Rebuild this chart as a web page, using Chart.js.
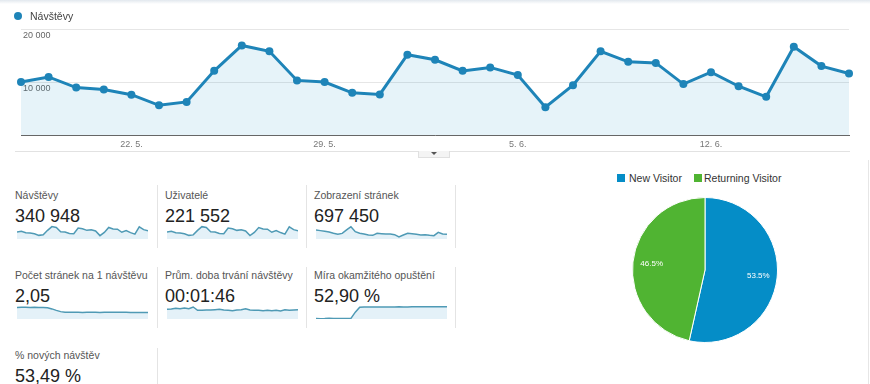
<!DOCTYPE html>
<html lang="cs">
<head>
<meta charset="utf-8">
<title>Návštěvy</title>
<script src="https://cdn.jsdelivr.net/npm/chart.js@4.4.1/dist/chart.umd.min.js"></script>
<style>
  body { margin:0; width:870px; height:384px; position:relative; overflow:hidden; background:#fff; font-family:"Liberation Sans", Arial, sans-serif; }
  .abs { position:absolute; }
  #topbar { left:0; top:0; width:870px; height:4px; background:linear-gradient(#e2e8ee,#fff); }
  #legenda { left:14px; top:11px; font-size:10.5px; line-height:1; color:#444; white-space:nowrap; }
  #legenda i { display:inline-block; width:8px; height:8px; border-radius:50%; background:#1e84b8; margin-right:8px; vertical-align:0; }
  #hlavni { left:0; top:0; }
  #spodni { left:15px; top:151px; width:835px; height:1px; background:#e2e2e2; }
  #zalozka { left:418px; top:151px; width:30px; height:6px; background:#f4f4f4; border:1px solid #e0e0e0; border-top:none; }
  #zalozka:after { content:''; position:absolute; left:12px; top:1px; border-left:3px solid transparent; border-right:3px solid transparent; border-top:3px solid #555; }
  .metrika { position:absolute; width:140px; height:60px; }
  .metrika .lbl { position:absolute; left:0; top:0; font-size:10.5px; line-height:1; color:#555; white-space:nowrap; }
  .metrika .val { position:absolute; left:0; top:16.5px; font-size:18px; line-height:1; color:#222; white-space:nowrap; }
  .metrika canvas { position:absolute; left:2px; top:34px; }
  .sep { position:absolute; width:1px; background:#e4e4e4; }
  #pieLeg { left:617px; top:173px; font-size:10.5px; line-height:1; color:#333; white-space:nowrap; }
  #pieLeg span { position:absolute; top:0; }
  #pieLeg b { position:absolute; top:1px; width:8px; height:8px; }
  #kolac { left:632px; top:197px; }
  #prava { left:868px; top:160px; width:1px; height:224px; background:#e6e6e6; }
</style>
</head>
<body>
<div id="topbar" class="abs"></div>
<canvas id="hlavni" class="abs" width="870" height="150"></canvas>
<div id="legenda" class="abs"><i></i>Návštěvy</div>
<div id="spodni" class="abs"></div>
<div id="zalozka" class="abs"></div>

<div class="metrika" style="left:15px;top:190px"><div class="lbl">Návštěvy</div><div class="val">340 948</div><canvas id="s1" width="131" height="15"></canvas></div>
<div class="metrika" style="left:165px;top:190px"><div class="lbl">Uživatelé</div><div class="val">221 552</div><canvas id="s2" width="131" height="15"></canvas></div>
<div class="metrika" style="left:314px;top:190px"><div class="lbl">Zobrazení stránek</div><div class="val">697 450</div><canvas id="s3" width="131" height="15"></canvas></div>
<div class="metrika" style="left:15px;top:270px"><div class="lbl">Počet stránek na 1 návštěvu</div><div class="val">2,05</div><canvas id="s4" width="131" height="15"></canvas></div>
<div class="metrika" style="left:165px;top:270px"><div class="lbl">Prům. doba trvání návštěvy</div><div class="val">00:01:46</div><canvas id="s5" width="131" height="15"></canvas></div>
<div class="metrika" style="left:314px;top:270px"><div class="lbl">Míra okamžitého opuštění</div><div class="val">52,90 %</div><canvas id="s6" width="131" height="15"></canvas></div>
<div class="metrika" style="left:15px;top:350px"><div class="lbl">% nových návštěv</div><div class="val">53,49 %</div></div>

<div class="sep" style="left:157px;top:185px;height:63px"></div>
<div class="sep" style="left:306px;top:185px;height:63px"></div>
<div class="sep" style="left:455px;top:185px;height:63px"></div>
<div class="sep" style="left:157px;top:267px;height:61px"></div>
<div class="sep" style="left:306px;top:267px;height:61px"></div>
<div class="sep" style="left:455px;top:267px;height:61px"></div>
<div class="sep" style="left:157px;top:348px;height:40px"></div>

<div id="pieLeg" class="abs">
  <b style="left:0;background:#058dc7"></b><span style="left:12px">New Visitor</span>
  <b style="left:77px;background:#50b432"></b><span style="left:87px">Returning Visitor</span>
</div>
<canvas id="kolac" class="abs" width="146" height="146"></canvas>
<div id="prava" class="abs"></div>

<script>
// dny v obdobi
const dny = ['18. 5.','19. 5.','20. 5.','21. 5.','22. 5.','23. 5.','24. 5.','25. 5.','26. 5.','27. 5.','28. 5.','29. 5.','30. 5.','31. 5.',
             '1. 6.','2. 6.','3. 6.','4. 6.','5. 6.','6. 6.','7. 6.','8. 6.','9. 6.','10. 6.','11. 6.','12. 6.','13. 6.','14. 6.','15. 6.','16. 6.','17. 6.'];
const popiskyOsy = ['22. 5.','29. 5.','5. 6.','12. 6.']; // popisky na ose x

const navstevy   = [10000,10950,8950,8600,7600,5600,6250,12100,16900,15800,10300,10000,7950,7650,15150,14200,12100,12750,11300,5250,9400,15800,13800,13600,9600,11850,9200,7200,16650,13000,11600];
const uzivatele  = [6500,7100,5850,5600,4950,3650,4050,7850,10950,10250,6700,6500,5200,4950,9850,9200,7850,8300,7350,3450,6100,10250,8950,8850,6250,7700,6000,4700,10800,8450,7550];
const zobrazeni  = [30600,29100,27400,25700,22600,20200,22500,30700,38600,26600,22700,21000,18600,17800,22600,21800,21000,20900,19400,13800,18600,22700,21800,20200,18600,19400,17800,17000,25000,21000,20200];
const stranekNa  = [2.44,2.45,2.46,2.44,2.45,2.43,2.44,2.40,2.28,2.12,1.98,1.92,1.91,1.90,1.90,1.89,1.91,1.90,1.90,1.89,1.90,1.91,1.91,1.90,1.91,1.90,1.89,1.89,1.89,1.88,1.89];
const dobaSek    = [108,110,114,112,116,112,122,102,102,104,104,106,108,104,102,100,104,106,112,104,102,102,100,102,100,102,98,106,102,104,106];
const opusteni   = [31.2,30.8,31.0,31.5,30.9,31.3,31.1,31.0,31.5,46.0,57.5,57.8,58.0,57.9,58.1,58.0,58.2,58.1,58.0,58.3,58.2,58.1,58.3,58.4,58.3,58.4,58.5,58.4,58.6,58.5,58.6];

const typyNavst  = ['New Visitor','Returning Visitor'];
const podily     = [53.5, 46.5];
const yTicks     = [0, 10000, 20000];

const modra = '#1e84b8';
const pismo = '"Liberation Sans", Arial, sans-serif';

const mezery = v => String(v).replace(/\B(?=(\d{3})+(?!\d))/g, ' '); // 20000 -> "20 000"

// hlavni graf navstev
new Chart(document.getElementById('hlavni'), {
  type: 'line',
  data: { labels: dny, datasets: [{
    label: 'Návštěvy', data: navstevy, borderColor: modra, borderWidth: 3,
    backgroundColor: 'rgba(5,141,199,0.1)', fill: 'origin', tension: 0, clip: false,
    pointRadius: 4, pointBackgroundColor: modra, pointBorderWidth: 0
  }]},
  options: {
    responsive: false, animation: false, events: [],
    layout: { padding: { left: 21, right: 21, top: 29, bottom: 0 } },
    plugins: { legend: { display: false }, tooltip: { enabled: false } },
    scales: {
      x: {
        grid: { display: false, drawTicks: false }, border: { color: '#666', width: 1 },
        ticks: { autoSkip: false, maxRotation: 0, padding: 4, color: '#777', font: { size: 9, family: pismo },
                 callback: (v, i) => popiskyOsy.includes(dny[i]) ? dny[i] : '' },
        afterFit: s => { s.height = 15; }
      },
      y: {
        min: yTicks[0], max: yTicks[yTicks.length - 1],
        border: { display: false }, grid: { color: '#e6e6e6', drawTicks: false },
        afterBuildTicks: s => { s.ticks = yTicks.map(v => ({ value: v })); },
        ticks: { mirror: true, padding: 2, labelOffset: 7, color: '#666', font: { size: 9, family: pismo },
                 callback: v => v ? mezery(v) : '' },
        afterFit: s => { s.width = 0; }
      }
    }
  }
});

// male grafy u metrik
function spark(id, data, min, max){
  new Chart(document.getElementById(id), {
    type: 'line',
    data: { labels: dny, datasets: [{ data, borderColor: '#4f9ab5', borderWidth: 1.5, backgroundColor: '#e4f1f8',
                                     fill: 'start', pointRadius: 0, tension: 0, clip: false }] },
    options: {
      responsive: false, animation: false, events: [],
      plugins: { legend: { display: false }, tooltip: { enabled: false } },
      scales: { x: { display: false }, y: { display: false, min, max } }
    }
  });
}
spark('s1', navstevy, 900, 20300);
spark('s2', uzivatele, 600, 13200);
spark('s3', zobrazeni, 9000, 45000);
spark('s4', stranekNa, 1.17, 2.82);
spark('s5', dobaSek, 50, 140);
spark('s6', opusteni, 30, 65);

// popisky procent v kolaci
const pieLabels = {
  id: 'pieLabels',
  afterDatasetsDraw(chart){
    const ctx = chart.ctx;
    ctx.save();
    ctx.fillStyle = '#fff';
    ctx.font = '8px ' + pismo;
    ctx.textAlign = 'center';
    ctx.textBaseline = 'middle';
    chart.getDatasetMeta(0).data.forEach((arc, i) => {
      const mid = (arc.startAngle + arc.endAngle) / 2;
      const r = arc.outerRadius * 0.74;
      ctx.fillText(podily[i].toFixed(1) + '%', arc.x + Math.cos(mid) * r, arc.y + Math.sin(mid) * r);
    });
    ctx.restore();
  }
};

new Chart(document.getElementById('kolac'), {
  type: 'pie',
  data: { labels: typyNavst, datasets: [{ data: podily, backgroundColor: ['#058dc7','#50b432'], borderColor: '#fff', borderWidth: 1 }] },
  options: {
    responsive: false, animation: false, events: [],
    plugins: { legend: { display: false }, tooltip: { enabled: false } }
  },
  plugins: [pieLabels]
});
</script>
</body>
</html>
